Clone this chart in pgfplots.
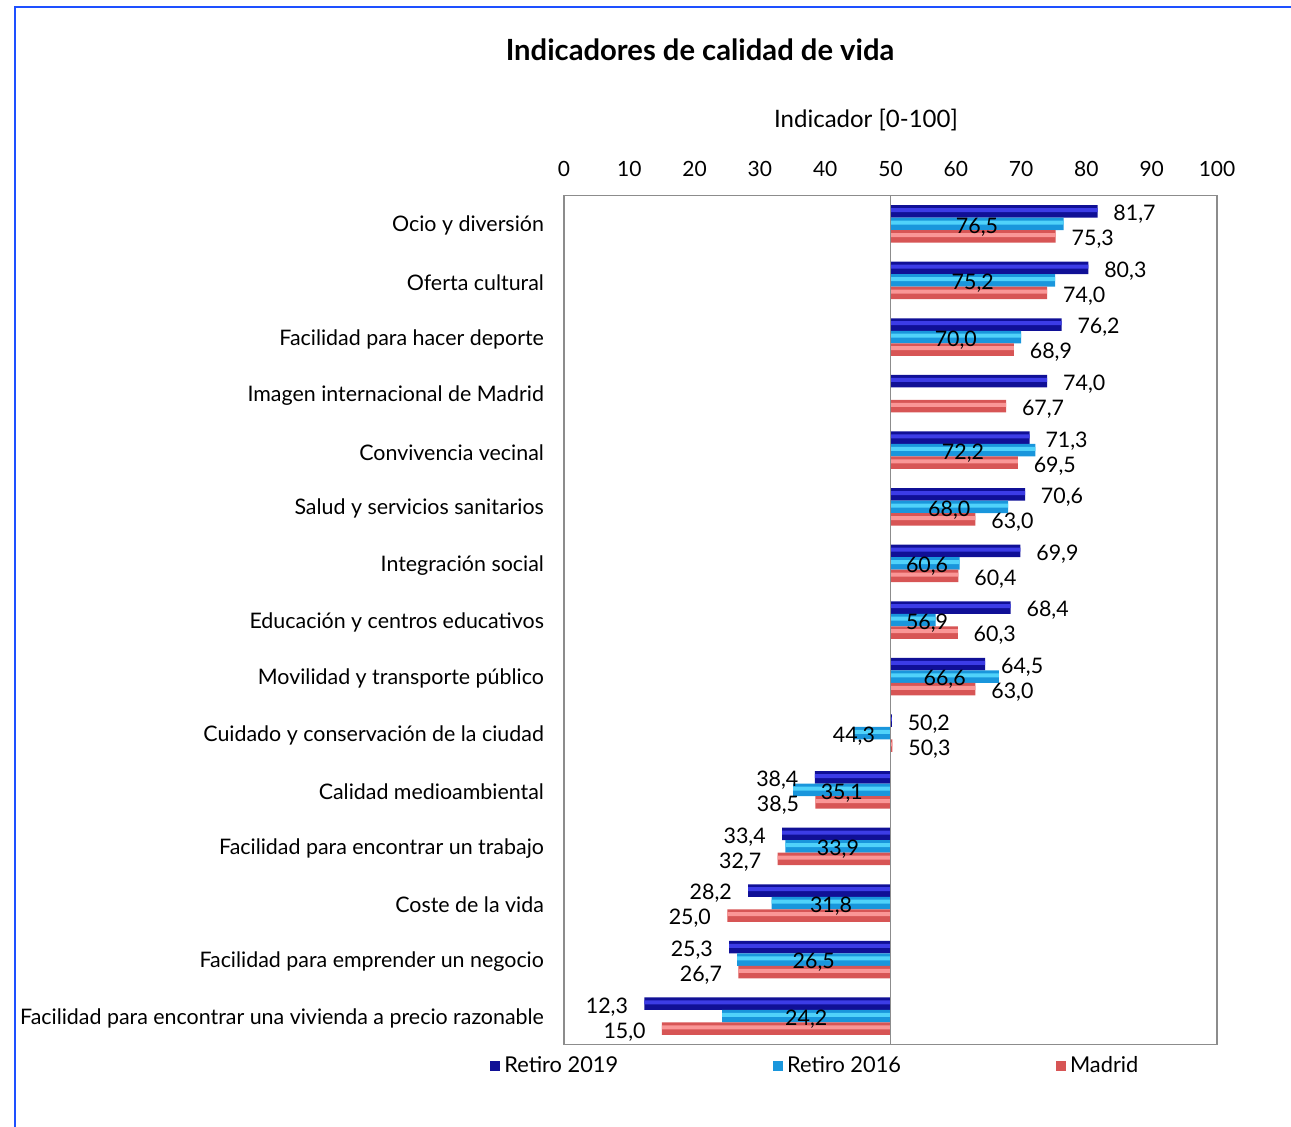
\documentclass[border=0pt]{standalone}
\usepackage{fontspec}
\setmainfont{Lato}
\usepackage{pgfplots}
\pgfplotsset{compat=1.18}
\usepackage{pgfplotstable}

\definecolor{frameblue}{RGB}{30,80,255}
\definecolor{axgray}{RGB}{140,140,140}
\definecolor{rA}{RGB}{16,16,150}
\definecolor{rAl}{RGB}{60,60,230}
\definecolor{rB}{RGB}{25,150,220}
\definecolor{rBl}{RGB}{80,210,250}
\definecolor{mA}{RGB}{215,85,85}
\definecolor{mAl}{RGB}{250,150,150}

% Retiro 2019
\pgfplotstableread{
idx v
0 81.7
1 80.3
2 76.2
3 74.0
4 71.3
5 70.6
6 69.9
7 68.4
8 64.5
9 50.2
10 38.4
11 33.4
12 28.2
13 25.3
14 12.3
}\retiroA

% Retiro 2016 (sin dato para la imagen internacional)
\pgfplotstableread{
idx v
0 76.5
1 75.2
2 70.0
4 72.2
5 68.0
6 60.6
7 56.9
8 66.6
9 44.3
10 35.1
11 33.9
12 31.8
13 26.5
14 24.2
}\retiroB

% Madrid
\pgfplotstableread{
idx v
0 75.3
1 74.0
2 68.9
3 67.7
4 69.5
5 63.0
6 60.4
7 60.3
8 63.0
9 50.3
10 38.5
11 32.7
12 25.0
13 26.7
14 15.0
}\madrid

\newcommand{\fs}{\fontsize{10.5}{12.6}\selectfont}

\begin{document}
\begin{tikzpicture}[x=1pt,y=1pt]
\useasboundingbox (0,0) rectangle (645.5,-563.5);
\draw[frameblue, line width=1pt] (7.5,-563.5) -- (7.5,-3.75) -- (645.5,-3.75);
\node[font=\fontsize{14.6}{17}\selectfont\bfseries] at (350,-25) {Indicadores de calidad de vida};
\node[font=\fontsize{12}{14}\selectfont] at (433,-60) {Indicador [0-100]};
\begin{axis}[
  at={(282pt,-522.25pt)}, anchor=south west,
  scale only axis, width=326.5pt, height=424.5pt,
  xbar, bar width=6.25pt,
  xmin=-50, xmax=50, ymin=-0.5, ymax=14.5, y dir=reverse,
  xtick={-50,-40,-30,-20,-10,0,10,20,30,40,50},
  xticklabels={0,10,20,30,40,50,60,70,80,90,100},
  xticklabel pos=upper,
  ytick={0,1,2,3,4,5,6,7,8,9,10,11,12,13,14},
  yticklabels={Ocio y diversión, Oferta cultural, Facilidad para hacer deporte,
    Imagen internacional de Madrid, Convivencia vecinal, Salud y servicios sanitarios,
    Integración social, Educación y centros educativos, Movilidad y transporte público,
    Cuidado y conservación de la ciudad, Calidad medioambiental,
    Facilidad para encontrar un trabajo, Coste de la vida,
    Facilidad para emprender un negocio,
    Facilidad para encontrar una vivienda a precio razonable},
  major tick length=0pt,
  axis line style={axgray, line width=0.75pt},
  tick label style={font=\fs},
  xticklabel style={yshift=6pt},
  yticklabel style={xshift=-6.5pt, yshift=-1pt, font=\fontsize{10.7}{12.8}\selectfont},
  point meta=explicit,
  visualization depends on={\thisrow{v} \as \vv},
  every node near coord/.append style={font=\fontsize{10.7}{12.8}\selectfont,
    inner sep=0pt, anchor=center, yshift=-1.5pt},
  /pgf/number format/fixed,
  /pgf/number format/fixed zerofill,
  /pgf/number format/precision=1,
  /pgf/number format/use comma,
  /pgf/number format/assume math mode=true,
  clip=false,
  legend columns=3,
  legend image code/.code={\fill[#1] (0pt,-2.5pt) rectangle (5pt,2.5pt);},
  legend style={at={(axis description cs:-0.1133,-0.0253)}, anchor=west,
    draw=none, fill=none, inner sep=0pt, font=\fontsize{10.9}{13}\selectfont,
    /tikz/every even column/.append style={column sep=75.5pt}},
  outside label/.style={every node near coord/.append style={xshift={(\vv<50 ? -18.7 : 18.5)}}},
]
% Retiro 2019
\addplot[draw=none, fill=rA, bar shift=6.25pt, nodes near coords, outside label]
  table[x expr=\thisrow{v}-50, y=idx, meta=v] {\retiroA};
\addlegendentry{Retiro 2019}
% Retiro 2016: etiqueta en el centro de la barra
\addplot[draw=none, fill=rB, bar shift=0pt, nodes near coords,
  every node near coord/.append style={
    shift={(axis direction cs:{(\vv>50 ? 50+max((\vv-50)/2,5.6) : 50-max((50-\vv)/2,5.6))-\vv},0)}}]
  table[x expr=\thisrow{v}-50, y=idx, meta=v] {\retiroB};
\addlegendentry{Retiro 2016}
% Madrid
\addplot[draw=none, fill=mA, bar shift=-6.25pt, nodes near coords, outside label]
  table[x expr=\thisrow{v}-50, y=idx, meta=v] {\madrid};
\addlegendentry{Madrid}
% brillo de las barras
\addplot[forget plot, draw=none, fill=rAl, bar width=2pt, bar shift=6.9pt]
  table[x expr=\thisrow{v}-50, y=idx] {\retiroA};
\addplot[forget plot, draw=none, fill=rBl, bar width=2pt, bar shift=0.65pt]
  table[x expr=\thisrow{v}-50, y=idx] {\retiroB};
\addplot[forget plot, draw=none, fill=mAl, bar width=2pt, bar shift=-5.6pt]
  table[x expr=\thisrow{v}-50, y=idx] {\madrid};
\draw[axgray, line width=0.75pt] (axis cs:0,-0.5) -- (axis cs:0,14.5);
\end{axis}
\end{tikzpicture}
\end{document}
